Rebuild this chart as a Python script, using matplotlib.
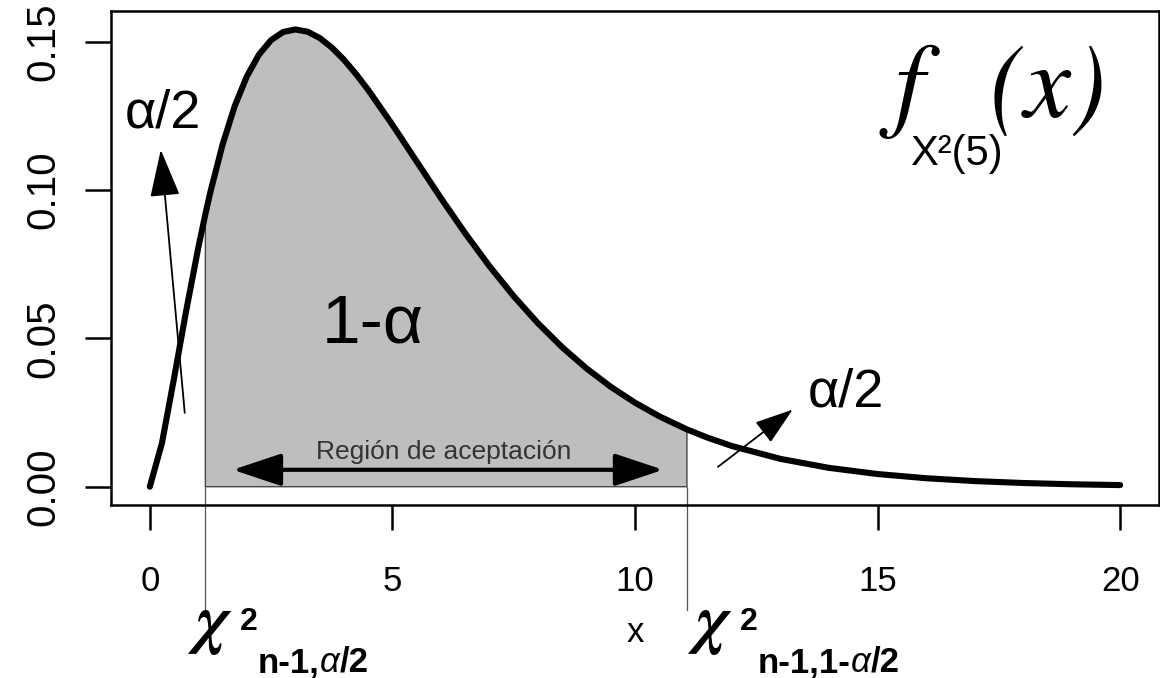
import matplotlib
matplotlib.use("Agg")
import matplotlib.pyplot as plt
import numpy as np
from matplotlib.offsetbox import TextArea, HPacker, AnnotationBbox

plt.rcParams['font.family'] = ['Liberation Sans', 'DejaVu Sans']

# densidad chi-cuadrado con 5 g.l.
x = [0, 0.25, 0.5, 0.75, 1.0, 1.145, 1.25, 1.5, 1.75, 2.0, 2.25, 2.5, 2.75,
     3.0, 3.25, 3.5, 3.75, 4.0, 4.25, 4.5, 5.0, 5.5, 6.0, 6.5, 7.0, 7.5,
     8.0, 8.5, 9.0, 9.5, 10.0, 10.5, 11.07, 11.5, 12, 13, 14, 15, 16, 17,
     18, 19, 20]
y = [0, 0.01467, 0.03662, 0.05936, 0.08066, 0.0919, 0.09948, 0.11540,
     0.12833, 0.13837, 0.14571, 0.15060, 0.15333, 0.15418, 0.15342, 0.15131,
     0.14809, 0.14398, 0.13915, 0.13380, 0.12204, 0.10966, 0.09730, 0.08545,
     0.07437, 0.06424, 0.05511, 0.04701, 0.03989, 0.03369, 0.02833, 0.02374,
     0.01932, 0.01651, 0.01370, 0.00937, 0.00635, 0.00427, 0.00286, 0.00190,
     0.00125, 0.00082, 0.00054]

q_lo, q_hi = 1.145, 11.07   # cuantiles 0.05 y 0.95
x_ticks = [0, 5, 10, 15, 20]
y_ticks = [0.00, 0.05, 0.10, 0.15]

x = np.array(x)
y = np.array(y)

W, H = 1160, 678
def P(px, py):
    return (px / W, 1 - py / H)

fig = plt.figure(figsize=(W / 100, H / 100), dpi=100)
ax = fig.add_axes([111 / W, 1 - 505 / H, (1159 - 111) / W, (505 - 11) / H])

# region sombreada
m = (x >= q_lo) & (x <= q_hi)
ax.fill(np.r_[q_lo, x[m], q_hi], np.r_[0, y[m], 0],
        facecolor='#bebebe', edgecolor='#444444', lw=1, zorder=1)
ax.plot(x, y, color='black', lw=4.4, solid_capstyle='round', zorder=3)

# lineas de los cuantiles hacia abajo
for q in (q_lo, q_hi):
    ax.plot([q, q], [0, -0.0415], color='#555555', lw=0.9, clip_on=False)

ax.set_xlim(-0.8, 20.8)
ax.set_ylim(-0.00617, 0.1604)
ax.set_xticks(x_ticks)
ax.set_xticklabels([str(t) for t in x_ticks])
ax.set_yticks(y_ticks)
ax.set_yticklabels(['%.2f' % t for t in y_ticks])
for s in ax.spines.values():
    s.set_linewidth(1.8)
ax.tick_params(axis='x', length=18, width=1.8, pad=25, labelsize=25)
ax.tick_params(axis='y', length=19, width=1.8, pad=16, labelsize=29,
               labelrotation=90)
for lab in ax.get_yticklabels():
    lab.set_va('center')
ax.set_xlabel('x', fontsize=25)
ax.xaxis.set_label_coords(0.5, -0.258)
ax.xaxis.label.set_va('center')

# flechas
ax.annotate('', xy=(0.226, 0.1136), xytext=(0.72, 0.0249),
            arrowprops=dict(arrowstyle='-|>,head_length=30,head_width=9.5',
                            mutation_scale=1, lw=1.3, color='black',
                            shrinkA=0, shrinkB=0))
ax.annotate('', xy=(13.25, 0.026), xytext=(11.71, 0.0067),
            arrowprops=dict(arrowstyle='-|>,head_length=24,head_width=8',
                            mutation_scale=1, lw=1.3, color='black',
                            shrinkA=0, shrinkB=0))
ax.annotate('', xy=(1.71, 0.0057), xytext=(10.58, 0.0057),
            arrowprops=dict(arrowstyle='<|-|>,head_length=30,head_width=10',
                            mutation_scale=1, lw=3, color='black',
                            shrinkA=0, shrinkB=0))

ax.text(0.27, 0.126, 'α/2', fontsize=39, ha='center', va='center')
ax.text(14.34, 0.0317, 'α/2', fontsize=39, ha='center', va='center')
ax.text(4.59, 0.0546, '1-α', fontsize=50, ha='center', va='center')
ax.text(6.05, 0.0118, 'Región de aceptación', fontsize=19, color='#333333',
        ha='center', va='center')

# f_{chi2(5)}(x)
fig.text(*P(895, 117), 'f', family='STIXGeneral', style='italic',
         fontsize=76, ha='left', va='baseline')
fig.text(*P(990, 117), '(x)', family='STIXGeneral', style='italic',
         fontsize=76, ha='left', va='baseline')
fig.text(*P(910, 165), 'Χ²(5)', fontsize=30, ha='left', va='baseline')

# etiquetas de los cuantiles
def cuantil(px, sub):
    fig.text(*P(px + 6, 641), 'χ', family='STIXGeneral', fontweight='bold',
             style='italic', fontsize=48, ha='left', va='baseline')
    fig.text(*P(px + 50, 630), '2', fontweight='bold', fontsize=23,
             ha='left', va='baseline')
    bold = dict(fontsize=25, fontweight='bold')
    ital = dict(fontsize=25, style='italic')
    parts = [TextArea(sub[0], textprops=bold), TextArea('α', textprops=ital),
             TextArea('/2', textprops=bold)]
    box = HPacker(children=parts, align='baseline', pad=0, sep=0)
    ab = AnnotationBbox(box, P(px + 68, 679), xycoords='figure fraction',
                        box_alignment=(0, 0), frameon=False, pad=0)
    fig.add_artist(ab)

cuantil(190, ['n-1,'])
cuantil(690, ['n-1,1-'])

fig.savefig('out.png', dpi=100)
